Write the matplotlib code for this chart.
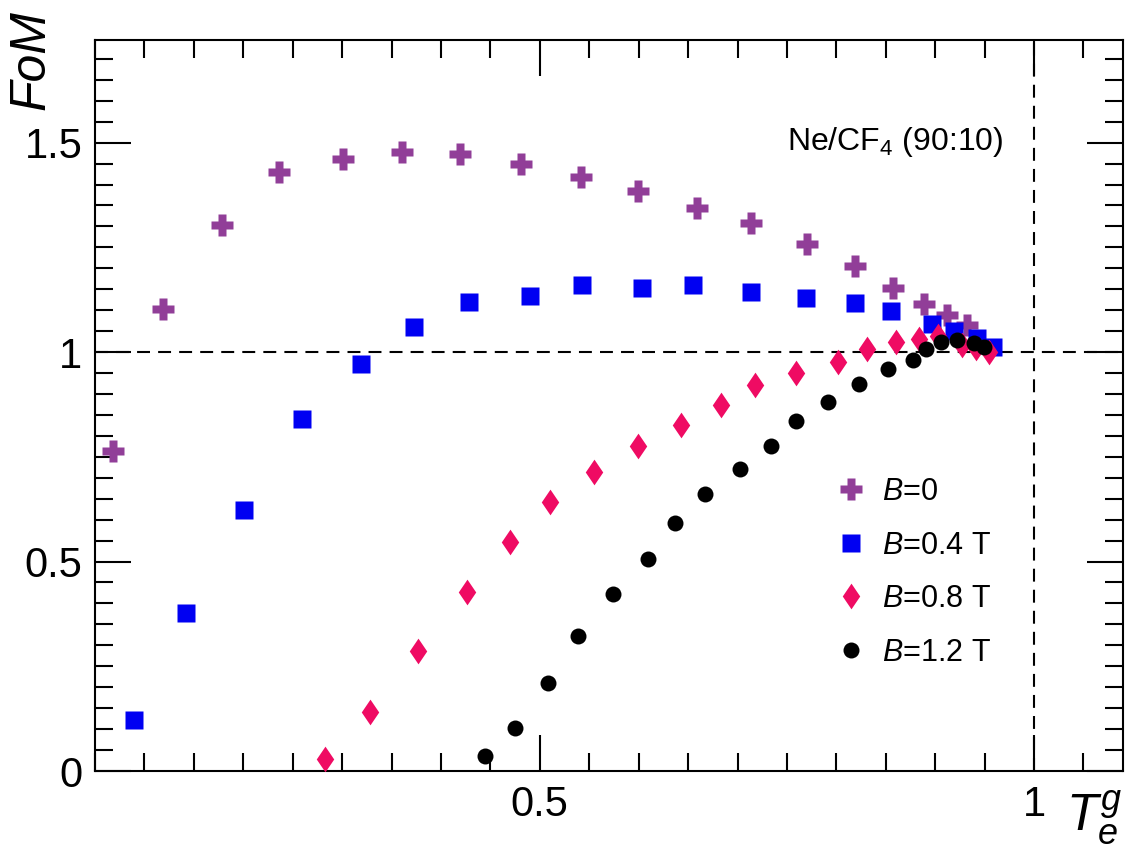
import matplotlib
matplotlib.use("Agg")
import matplotlib.pyplot as plt
from matplotlib.ticker import MultipleLocator, FuncFormatter

plt.rcParams['font.family'] = ['Liberation Sans', 'DejaVu Sans']
plt.rcParams['mathtext.fontset'] = 'custom'
plt.rcParams['mathtext.rm'] = 'Liberation Sans'
plt.rcParams['mathtext.it'] = 'Liberation Sans:italic'
plt.rcParams['mathtext.bf'] = 'Liberation Sans:bold'

# valori (T_e^g, FoM)
te_b0 = [0.0685, 0.1187, 0.1788, 0.2358, 0.3006, 0.3603, 0.4197, 0.4808, 0.5412,
         0.5989, 0.6589, 0.7133, 0.7702, 0.8185, 0.8578, 0.8890, 0.9116, 0.9325]
fom_b0 = [0.764, 1.102, 1.304, 1.431, 1.462, 1.477, 1.474, 1.450, 1.418,
          1.385, 1.343, 1.309, 1.259, 1.206, 1.154, 1.115, 1.088, 1.064]

te_b04 = [0.0894, 0.1421, 0.2004, 0.2591, 0.3188, 0.3728, 0.4284, 0.4902, 0.5428, 0.6032,
          0.6549, 0.7133, 0.7692, 0.8191, 0.8550, 0.8964, 0.9190, 0.9420, 0.9588]
fom_b04 = [0.121, 0.376, 0.623, 0.841, 0.971, 1.060, 1.119, 1.135, 1.159, 1.154,
           1.160, 1.144, 1.130, 1.116, 1.098, 1.067, 1.051, 1.033, 1.013]

te_b08 = [0.2831, 0.3287, 0.3768, 0.4268, 0.4696, 0.5101, 0.5550, 0.5995, 0.6424, 0.6835,
          0.7176, 0.7591, 0.8019, 0.8308, 0.8603, 0.8836, 0.9033, 0.9276, 0.9413, 0.9545]
fom_b08 = [0.029, 0.142, 0.287, 0.427, 0.547, 0.643, 0.714, 0.776, 0.826, 0.874,
           0.921, 0.951, 0.977, 1.007, 1.024, 1.031, 1.038, 1.018, 1.010, 1.001]

te_b12 = [0.4443, 0.4744, 0.5085, 0.5388, 0.5742, 0.6096, 0.6366, 0.6670, 0.7024, 0.7335,
          0.7591, 0.7918, 0.8229, 0.8525, 0.8778, 0.8907, 0.9062, 0.9218, 0.9393, 0.9494]
fom_b12 = [0.037, 0.102, 0.209, 0.322, 0.422, 0.507, 0.591, 0.661, 0.720, 0.777,
           0.836, 0.881, 0.925, 0.960, 0.982, 1.008, 1.024, 1.029, 1.022, 1.013]

labels = ["$B$=0", "$B$=0.4 T", "$B$=0.8 T", "$B$=1.2 T"]

# rombo stile ROOT (piu' largo del 'd' di matplotlib)
rombo = [(0, -1), (0.68, 0), (0, 1), (-0.68, 0), (0, -1)]

fig = plt.figure(figsize=(11.32, 8.55), dpi=100)
ax = fig.add_axes([95 / 1132, 1 - 771 / 855, 1028 / 1132, 731 / 855])

# linee di riferimento a FoM=1 e T=1
ax.axhline(1, color="black", lw=1.5, ls=(0, (6.2, 3.9)), zorder=1)
ax.axvline(1, color="black", lw=1.5, ls=(0, (6.2, 3.9)), zorder=1)

ax.plot(te_b0, fom_b0, ls="none", marker="P", ms=15.8, color="#913E98", mec="none", label=labels[0], zorder=3)
ax.plot(te_b04, fom_b04, ls="none", marker="s", ms=12.6, color="#0000F2", mec="none", label=labels[1], zorder=4)
ax.plot(te_b08, fom_b08, ls="none", marker=rombo, ms=18.5, color="#EF0B63", mec="none", label=labels[2], zorder=5)
ax.plot(te_b12, fom_b12, ls="none", marker="o", ms=11.5, color="black", mec="none", label=labels[3], zorder=6)

ax.set_xlim(0.05, 1.09)
ax.set_ylim(0, 1.745)

ax.xaxis.set_major_locator(MultipleLocator(0.5))
ax.xaxis.set_minor_locator(MultipleLocator(0.05))
ax.yaxis.set_major_locator(MultipleLocator(0.5))
ax.yaxis.set_minor_locator(MultipleLocator(0.05))
fmt = FuncFormatter(lambda v, p: f"{v:g}")
ax.xaxis.set_major_formatter(fmt)
ax.yaxis.set_major_formatter(fmt)

for s in ax.spines.values():
    s.set_linewidth(1.5)
ax.tick_params(which="both", direction="in", top=True, right=True, width=1.5, labelsize=30)
ax.tick_params(which="major", length=26)
ax.tick_params(which="minor", length=13)
ax.tick_params(axis="x", pad=10)
ax.tick_params(axis="y", pad=9)

# titoli assi stile ROOT
fig.text(31 / 1132, 1 - 10 / 855, "FoM", rotation=90, ha="center", va="top", fontsize=36, style="italic")
fig.text(1122 / 1132, 1 - 847 / 855, r"$T_{e}^{g}$", ha="right", va="bottom", fontsize=37)

ax.text(787 / 1132, 1 - 150 / 855, r"Ne/CF$_{4}$ (90:10)", transform=fig.transFigure,
        ha="left", va="baseline", fontsize=23)

ax.legend(loc="upper left", bbox_to_anchor=(836 / 1132, 1 - 477 / 855), bbox_transform=fig.transFigure,
          frameon=False, fontsize=22, borderpad=0, borderaxespad=0, handlelength=1.0,
          handletextpad=0.5, labelspacing=0.77, numpoints=1)

fig.savefig("out.png", dpi=100)
